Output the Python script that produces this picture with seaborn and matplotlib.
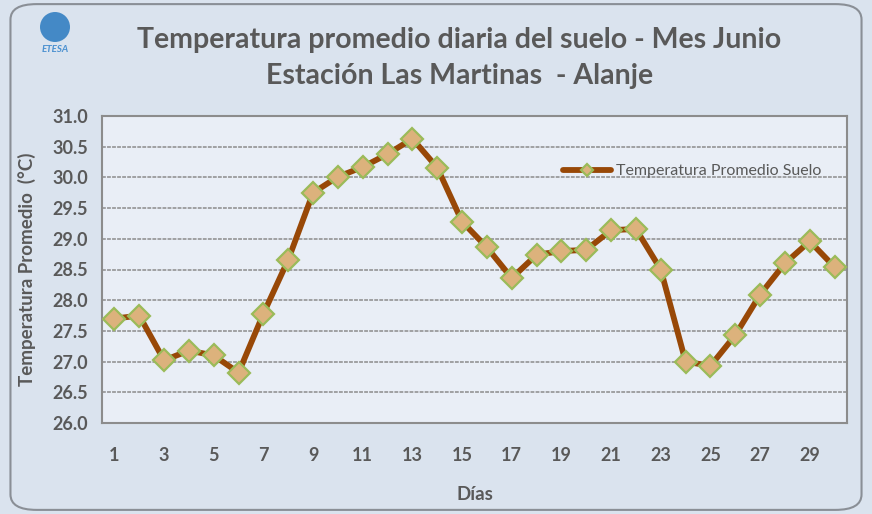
import matplotlib
matplotlib.use("Agg")
import matplotlib.pyplot as plt
from matplotlib.patches import FancyBboxPatch, Ellipse
from matplotlib.ticker import MultipleLocator
import seaborn as sns
import pandas as pd

# Temperatura promedio diaria del suelo, junio
dias = list(range(1, 31))
temperatura = [27.70, 27.75, 27.02, 27.18, 27.10, 26.82, 27.78, 28.66, 29.75, 30.01,
               30.17, 30.38, 30.63, 30.16, 29.28, 28.86, 28.36, 28.74, 28.80, 28.82,
               29.14, 29.16, 28.50, 27.00, 26.93, 27.43, 28.09, 28.60, 28.96, 28.54]
xticks = list(range(1, 30, 2))

GRAY = '#595959'
df = pd.DataFrame({'Dia': dias, 'Temp': temperatura})

sns.set_style('white')
plt.rcParams['font.family'] = ['Lato', 'DejaVu Sans']

fig = plt.figure(figsize=(8.72, 5.14), dpi=100, facecolor='#dae3ee')
ax = fig.add_axes([102/872, 1 - 423/514, 745/872, 307/514])
ax.set_facecolor('#e9eef6')

# rounded frame
frame = FancyBboxPatch((0.012, 0.008), 0.976, 0.984, boxstyle='round,pad=0,rounding_size=0.03',
                       transform=fig.transFigure, facecolor='none', edgecolor='#8a8f96',
                       linewidth=1.5, zorder=0)
fig.patches.append(frame)

sns.lineplot(data=df, x='Dia', y='Temp', ax=ax, color='#984807', linewidth=4.2,
             marker='D', markersize=11.5, markerfacecolor='#dcb27c',
             markeredgecolor='#9bbb59', markeredgewidth=1.6,
             label='Temperatura Promedio Suelo', zorder=3)

ax.set_xlim(0.5, 30.5)
ax.set_ylim(26.0, 31.0)
ax.yaxis.set_major_locator(MultipleLocator(0.5))
ax.set_xticks(xticks)
ax.set_xticks([d + 0.5 for d in [0] + dias], minor=True)
ax.yaxis.set_major_formatter(matplotlib.ticker.FormatStrFormatter('%.1f'))
ax.tick_params(axis='x', which='major', length=0, pad=17, labelsize=13, labelcolor=GRAY)
ax.tick_params(axis='x', which='minor', length=5, color='#8c8c8c', direction='out')
ax.tick_params(axis='y', length=5, color='#8c8c8c', direction='out', labelsize=13,
               labelcolor=GRAY, pad=5)
for lbl in ax.get_xticklabels() + ax.get_yticklabels():
    lbl.set_fontweight('bold')

ax.grid(axis='y', color='#8c8c8c', linestyle='--', linewidth=1.1, dashes=(2.5, 0.8))
ax.set_axisbelow(True)
for s in ax.spines.values():
    s.set_color('#8c8c8c')
    s.set_linewidth(1.5)

ax.set_xlabel('Días', fontsize=13.5, fontweight='bold', color=GRAY, labelpad=16)
ax.set_ylabel('Temperatura Promedio  (°C)', fontsize=13.5, fontweight='bold', color=GRAY,
              labelpad=12)

leg = ax.legend(loc='upper right', bbox_to_anchor=(0.985, 0.89), frameon=False,
                fontsize=11.5, handlelength=3.0, handletextpad=0.3, markerscale=0.55)
for t in leg.get_texts():
    t.set_color(GRAY)

fig.text(0.527, 0.922, 'Temperatura promedio diaria del suelo - Mes Junio',
         ha='center', va='center', fontsize=20.5, fontweight='bold', color=GRAY)
fig.text(0.527, 0.852, 'Estación Las Martinas  - Alanje',
         ha='center', va='center', fontsize=20.5, fontweight='bold', color=GRAY)

# small logo
fig.patches.append(Ellipse((55/872, 1 - 27/514), 30/872, 30/514, transform=fig.transFigure,
                           facecolor='#2a7ac0', edgecolor='none', alpha=0.85))
fig.text(55/872, 1 - 49/514, 'ETESA', ha='center', va='center', fontsize=7,
         fontstyle='italic', fontweight='bold', color='#4a90d0')

fig.savefig('out.png', dpi=100, facecolor=fig.get_facecolor())
